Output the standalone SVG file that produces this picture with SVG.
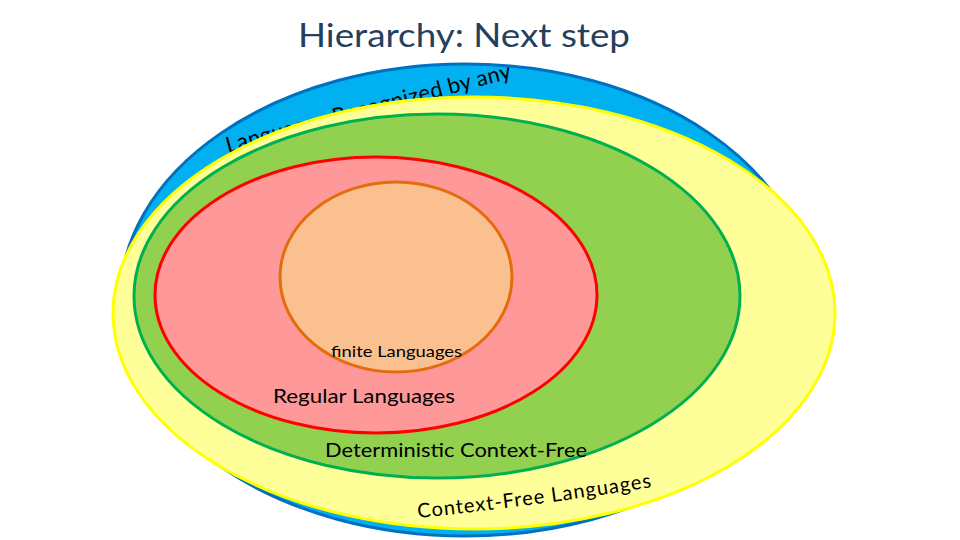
<svg xmlns="http://www.w3.org/2000/svg" width="960" height="540" viewBox="0 0 960 540">
<defs>
<style>
.lbl{font-family:Lato,"Open Sans","Liberation Sans",sans-serif;fill:#000}
.title{font-family:Lato,"Open Sans","Liberation Sans",sans-serif;fill:#243F60;font-size:32px}
</style>
<path id="topArc" d="M228,153 Q365,116 512,78"/>
<path id="botArc" d="M418,518 Q535,506 652,487"/>
</defs>
<rect width="960" height="540" fill="#fff"/>
<text id="title" class="title" x="298" y="47" textLength="332" lengthAdjust="spacingAndGlyphs">Hierarchy: Next step</text>
<g id="recognized">
<ellipse cx="465" cy="300" rx="345" ry="236" fill="#00B0F0" stroke="#0070C0" stroke-width="3"/>
<text class="lbl" font-size="22"><textPath href="#topArc" startOffset="0" textLength="294" lengthAdjust="spacing">Languages Recognized by any</textPath></text>
</g>
<g id="contextfree">
<ellipse cx="474" cy="313" rx="361" ry="216" fill="#FFFF99" stroke="#FFFF00" stroke-width="3"/>
<text class="lbl" font-size="20"><textPath href="#botArc" startOffset="0" textLength="236" lengthAdjust="spacing">Context-Free Languages</textPath></text>
</g>
<g id="dcf">
<ellipse cx="437" cy="296" rx="303" ry="182" fill="#92D050" stroke="#00B050" stroke-width="3"/>
<text class="lbl" font-size="20" x="325" y="457" textLength="262" lengthAdjust="spacingAndGlyphs">Deterministic Context-Free</text>
</g>
<g id="regular">
<ellipse cx="376" cy="295" rx="221" ry="138" fill="#FF9999" stroke="#FF0000" stroke-width="3"/>
<text class="lbl" font-size="20" x="273" y="403" textLength="182" lengthAdjust="spacingAndGlyphs">Regular Languages</text>
</g>
<g id="finite">
<ellipse cx="396" cy="277" rx="116" ry="95" fill="#FAC090" stroke="#E46C0A" stroke-width="3"/>
<text class="lbl" font-size="16" x="331" y="357" textLength="131" lengthAdjust="spacingAndGlyphs">finite Languages</text>
</g>
<g id="connectors"/>
</svg>
